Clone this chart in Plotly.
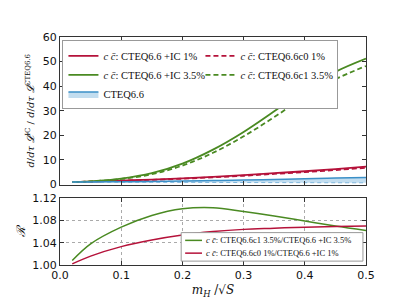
import plotly.graph_objects as go

x = [0.02, 0.05, 0.1, 0.15, 0.2, 0.25, 0.3, 0.35, 0.4, 0.45, 0.5]
green_ic = [1.0, 1.3, 2.4, 4.6, 8.5, 14.2, 21.4, 29.8, 38.5, 45.8, 51.2]
green_c1 = [0.99, 1.26, 2.25, 4.2, 7.7, 12.9, 19.6, 27.4, 35.7, 42.8, 48.2]
red_ic = [1.0, 1.2, 1.6, 2.0, 2.5, 3.1, 3.8, 4.6, 5.4, 6.3, 7.3]
red_c0 = [1.0, 1.18, 1.55, 1.91, 2.37, 2.92, 3.57, 4.32, 5.06, 5.89, 6.82]
band_up = [1.0, 1.05, 1.15, 1.25, 1.4, 1.6, 1.8, 2.05, 2.3, 2.6, 2.9]
band_lo = [1.0, 0.97, 0.93, 0.9, 0.87, 0.84, 0.81, 0.78, 0.75, 0.72, 0.7]
ratio_green = [1.008, 1.038, 1.068, 1.089, 1.101, 1.103, 1.096, 1.088, 1.079, 1.070, 1.062]
ratio_red = [1.002, 1.016, 1.033, 1.045, 1.054, 1.060, 1.064, 1.066, 1.068, 1.069, 1.070]
ratio_labels = ["CTEQ6.6c1 3.5%/CTEQ6.6 +IC 3.5%", "CTEQ6.6c0 1%/CTEQ6.6 +IC 1%"]
x_tickvals = [0.0, 0.1, 0.2, 0.3, 0.4, 0.5]
x_ticktext = ["0.0", "0.1", "0.2", "0.3", "0.4", "0.5"]
r_tickvals = [1.0, 1.04, 1.08, 1.12]
r_ticktext = ["1.00", "1.04", "1.08", "1.12"]

RED = "#b5123a"
GREEN = "#4a8a22"
BLUE = "#3a8fc7"
SERIF = "Liberation Serif"
cc = "<i>c</i> <i>c̄</i>: "
DASH = "5px,3px"

fig = go.Figure()
fig.add_trace(go.Scatter(x=x, y=red_ic, mode="lines", line=dict(color=RED, width=1.8, shape="spline"),
                         name=cc + "CTEQ6.6 +IC 1%", xaxis="x", yaxis="y"))
fig.add_trace(go.Scatter(x=x, y=red_c0, mode="lines", line=dict(color=RED, width=1.8, dash=DASH, shape="spline"),
                         name=cc + "CTEQ6.6c0 1%", xaxis="x", yaxis="y"))
fig.add_trace(go.Scatter(x=x, y=green_ic, mode="lines", line=dict(color=GREEN, width=1.8, shape="spline"),
                         name=cc + "CTEQ6.6 +IC 3.5%", xaxis="x", yaxis="y"))
fig.add_trace(go.Scatter(x=x, y=green_c1, mode="lines", line=dict(color=GREEN, width=1.8, dash=DASH, shape="spline"),
                         name=cc + "CTEQ6.6c1 3.5%", xaxis="x", yaxis="y"))
fig.add_trace(go.Scatter(x=x, y=band_lo, mode="lines", line=dict(color="#7fb6dc", width=1, dash="4px,3px", shape="spline"),
                         showlegend=False, xaxis="x", yaxis="y"))
fig.add_trace(go.Scatter(x=x, y=band_up, mode="lines", line=dict(color=BLUE, width=1.5, shape="spline"),
                         fill="tonexty", fillcolor="rgba(120,180,220,0.45)", name="CTEQ6.6",
                         xaxis="x", yaxis="y"))

fig.add_trace(go.Scatter(x=x, y=ratio_green, mode="lines", line=dict(color=GREEN, width=1.5, shape="spline"),
                         name=cc + ratio_labels[0], showlegend=False, xaxis="x2", yaxis="y2"))
fig.add_trace(go.Scatter(x=x, y=ratio_red, mode="lines", line=dict(color=RED, width=1.5, shape="spline"),
                         name=cc + ratio_labels[1], showlegend=False, xaxis="x2", yaxis="y2"))

# lower-panel legend drawn as box + sample lines + text (plot-area paper coords)
fig.add_shape(type="rect", xref="paper", yref="paper", x0=0.396, x1=0.99, y0=0.017, y1=0.142,
              fillcolor="white", line=dict(color="#999", width=1), layer="above")
for yy, col, lab in [(0.108, GREEN, ratio_labels[0]), (0.052, RED, ratio_labels[1])]:
    fig.add_shape(type="line", xref="paper", yref="paper", x0=0.409, x1=0.464, y0=yy, y1=yy,
                  line=dict(color=col, width=1.5), layer="above")
    fig.add_annotation(xref="paper", yref="paper", x=0.472, y=yy, xanchor="left", yanchor="middle",
                       text=cc + lab, showarrow=False,
                       font=dict(family=SERIF, size=8.5, color="#111"))

axis_common = dict(showline=True, mirror="ticks", linecolor="#333", linewidth=1,
                   ticks="inside", ticklen=4, tickcolor="#333",
                   tickfont=dict(family="DejaVu Sans", size=11, color="#111"), zeroline=False)

fig.update_layout(
    width=399, height=299,
    margin=dict(l=50, r=41, t=29, b=38),
    paper_bgcolor="white", plot_bgcolor="white",
    xaxis=dict(domain=[0, 1], range=[0, 0.5], tickvals=x_tickvals, showticklabels=False, showgrid=False,
               anchor="y", **axis_common),
    yaxis=dict(domain=[0.353, 1], range=[0, 60], dtick=10, showgrid=False, anchor="x",
               title=dict(text="<i>d</i>/<i>dτ</i> <i>𝓛</i><sup>IC</sup> / <i>d</i>/<i>dτ</i> <i>𝓛</i><sup>CTEQ6.6</sup>",
                          font=dict(family="DejaVu Serif", size=10, color="#111"), standoff=6),
               **axis_common),
    xaxis2=dict(domain=[0, 1], range=[0, 0.5], tickvals=x_tickvals, ticktext=x_ticktext, anchor="y2",
                showgrid=True, gridcolor="#aaa", griddash="dot", gridwidth=1,
                title=dict(text="<i>m<sub>H</sub></i> /√<i>S</i>", font=dict(family="DejaVu Serif", size=12, color="#111"),
                           standoff=4),
                **axis_common),
    yaxis2=dict(domain=[0, 0.293], range=[1.0, 1.12], tickvals=r_tickvals, ticktext=r_ticktext,
                anchor="x2",
                showgrid=True, gridcolor="#aaa", griddash="dot", gridwidth=1,
                title=dict(text="<i>ℛ</i>", font=dict(family="DejaVu Serif", size=12, color="#111"), standoff=4),
                **axis_common),
    legend=dict(x=0.008, y=0.985, xanchor="left", yanchor="top", orientation="h",
                entrywidth=92, entrywidthmode="pixels", traceorder="normal",
                bgcolor="white", bordercolor="#999", borderwidth=1,
                font=dict(family=SERIF, size=10.5, color="#111"), tracegroupgap=0,
                itemwidth=30),
)

fig.write_html("out.html")
